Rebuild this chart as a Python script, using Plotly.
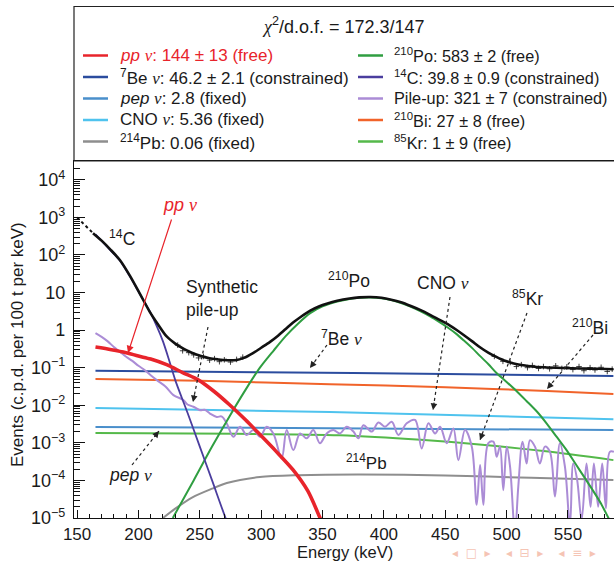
import numpy as np
import plotly.graph_objects as go

# ---------------- data (log10 of events, c.p.d. per 100 t per keV) ----------------
total_dot_E = [150, 156, 163]
total_dot_log = [3.0, 2.8, 2.58]

total_E = [163, 170, 177, 185, 193, 201, 209, 216, 223, 230, 237, 244, 251, 258, 265, 272,
           279, 286, 293, 300, 307, 313, 320, 326, 333, 340, 347, 354, 362, 372, 380, 389,
           398, 406, 414, 422, 430, 438, 445, 452, 459, 465, 472, 478, 485, 492, 498, 505,
           512, 519, 530, 546, 560, 575, 587]
total_log = [2.58, 2.38, 2.15, 1.86, 1.45, 0.98, 0.50, 0.15, -0.17, -0.36, -0.50, -0.61, -0.69,
             -0.75, -0.78, -0.80, -0.80, -0.74, -0.62, -0.47, -0.32, -0.17, 0.03, 0.20, 0.37,
             0.52, 0.63, 0.71, 0.78, 0.84, 0.87, 0.88, 0.86, 0.81, 0.74, 0.64, 0.53, 0.40,
             0.28, 0.16, 0.01, -0.13, -0.30, -0.45, -0.60, -0.72, -0.81, -0.88, -0.93, -0.96,
             -0.99, -1.01, -1.02, -1.03, -1.04]

data_E = [232, 236, 241, 245, 249, 253, 258, 262, 266, 270, 275, 280, 285,
          490, 497, 503, 508, 512, 517, 521, 526, 530, 535, 540, 545, 549, 554,
          559, 563, 568, 572, 577, 582, 586]
data_log = [-0.40, -0.55, -0.60, -0.66, -0.74, -0.70, -0.80, -0.76, -0.84, -0.79, -0.85, -0.78, -0.72,
            -0.70, -0.83, -0.86, -0.97, -0.92, -1.00, -0.94, -1.02, -0.97, -1.03, -0.95, -1.02,
            -0.98, -1.05, -0.97, -1.08, -1.00, -1.06, -0.99, -1.10, -1.04]

pp_E = [165, 178, 190, 200, 210, 223, 236, 249, 262, 274, 287, 299, 312, 326, 338, 348, 352]
pp_log = [-0.45, -0.52, -0.60, -0.69, -0.77, -0.92, -1.13, -1.33, -1.64, -1.98, -2.38, -2.78,
          -3.22, -3.72, -4.28, -5.0, -5.3]

be7_E = [165, 300, 450, 587]
be7_log = [-1.08, -1.12, -1.17, -1.22]

bi210_E = [165, 250, 356, 450, 533, 587]
bi210_log = [-1.30, -1.35, -1.44, -1.52, -1.62, -1.70]

cno_E = [165, 356, 587]
cno_log = [-2.07, -2.18, -2.37]

pep_E = [165, 356, 587]
pep_log = [-2.58, -2.61, -2.66]

kr85_E = [165, 280, 364, 430, 480, 530, 587]
kr85_log = [-2.74, -2.76, -2.80, -2.92, -3.05, -3.22, -3.46]

pb214_E = [220, 230, 244, 260, 272, 299, 330, 380, 450, 520, 587]
pb214_log = [-5.0, -4.75, -4.45, -4.22, -4.07, -3.91, -3.86, -3.84, -3.87, -3.93, -3.99]

c14_E = [165, 175, 185, 193, 201, 210, 215, 220, 225, 230, 240, 250, 260, 271, 276]
c14_log = [2.55, 2.2, 1.845, 1.43, 0.97, 0.45, 0.1, -0.3, -0.8, -1.33, -2.2, -3.1, -4.0, -5.0, -5.4]

po210_E = [228, 245, 260, 275, 288, 299, 310, 320, 330, 340, 350, 362, 372, 380, 389, 398,
           406, 414, 422, 430, 438, 445, 452, 459, 465, 472, 478, 485, 492, 500, 508, 516,
           525, 533, 541, 549, 556, 563, 570, 577, 583, 590]
po210_log = [-5.0, -4.0, -3.1, -2.25, -1.55, -1.0, -0.55, -0.16, 0.17, 0.45, 0.63, 0.76, 0.83,
             0.86, 0.87, 0.85, 0.80, 0.72, 0.62, 0.50, 0.36, 0.22, 0.07, -0.10, -0.27, -0.48,
             -0.68, -0.90, -1.15, -1.38, -1.62, -1.88, -2.18, -2.50, -2.85, -3.20, -3.55,
             -3.90, -4.25, -4.62, -5.0, -5.4]

pileup_E = [165, 170, 175, 180, 185, 190, 195, 200, 205, 210, 215, 222, 228.5, 236.6, 240,
            244.8, 250.2, 254, 258.3, 263.8, 268, 271.9, 277.4, 282.8, 288.2, 293.6, 299.1,
            304.5, 309.9, 316.7, 320.8, 326.2, 331.7, 337.1, 342.5, 347.9, 353.4, 358.8,
            364.2, 369.7, 375.2, 379.2, 383.3, 390.1, 395.5, 400.9, 406.4, 411.8, 418.6,
            425.4, 430.8, 436.3, 441.7, 445.8, 451.2, 456.6, 460.7, 466.1, 471.6, 475.6,
            478.4, 481.1, 485.1, 489.2, 491.9, 494.6, 497.3, 500.1, 502.8, 506.8, 509.5,
            513.0, 516.3, 519.0, 523.1, 527.1, 531.2, 535.3, 539.4, 543.4, 547.5, 551.6,
            554.3, 557.5, 561.1, 565.1, 568.4, 571.1, 574.6, 577.9, 580.9, 584.1, 587.4]
pileup_log = [-0.08, -0.18, -0.30, -0.45, -0.58, -0.71, -0.82, -0.95, -1.06, -1.20, -1.33,
              -1.50, -1.73, -1.86, -1.98, -2.04, -2.13, -2.12, -2.22, -2.31, -2.30, -2.48,
              -2.84, -2.57, -2.79, -2.66, -2.84, -2.57, -2.75, -3.41, -2.66, -3.19, -2.75,
              -2.88, -2.66, -3.01, -2.75, -2.66, -2.75, -2.57, -2.70, -2.88, -2.53, -2.70,
              -2.46, -2.57, -2.44, -2.79, -2.48, -2.39, -3.15, -2.48, -2.75, -2.57, -3.01,
              -2.62, -3.46, -2.66, -3.10, -4.65, -3.59, -4.65, -3.01, -2.97, -3.37, -3.10,
              -4.26, -3.10, -3.63, -5.40, -4.17, -2.97, -3.55, -2.93, -3.10, -3.55, -3.10,
              -3.24, -4.43, -3.01, -3.63, -5.20, -3.55, -3.99, -5.05, -3.55, -4.70, -3.55,
              -4.70, -3.55, -4.74, -3.24, -3.24]

y_tickvals = [1e-5, 1e-4, 1e-3, 1e-2, 1e-1, 1, 10, 1e2, 1e3, 1e4]
y_ticktext = ["10<sup>−5</sup>", "10<sup>−4</sup>", "10<sup>−3</sup>", "10<sup>−2</sup>",
              "10<sup>−1</sup>", "1", "10", "10<sup>2</sup>", "10<sup>3</sup>", "10<sup>4</sup>"]
x_tickvals = [150, 200, 250, 300, 350, 400, 450, 500, 550]

NU = "<span style='font-family:Liberation Serif'><i>ν</i></span>"
legend_left = [
    ("<i>pp</i> " + NU + ": 144 ± 13 (free)", "#e8242b", "#e8242b"),
    ("<sup>7</sup>Be " + NU + ": 46.2 ± 2.1 (constrained)", "#2b4c9e", "#1a1a1a"),
    ("<i>pep</i> " + NU + ": 2.8 (fixed)", "#4a8fcb", "#1a1a1a"),
    ("CNO " + NU + ": 5.36 (fixed)", "#4fc3ee", "#1a1a1a"),
    ("<sup>214</sup>Pb: 0.06 (fixed)", "#8e8e8e", "#1a1a1a"),
]
legend_right = [
    ("<sup>210</sup>Po: 583 ± 2 (free)", "#2f9e41", "#1a1a1a"),
    ("<sup>14</sup>C: 39.8 ± 0.9 (constrained)", "#4a3d9e", "#1a1a1a"),
    ("Pile-up: 321 ± 7 (constrained)", "#ab8cd6", "#1a1a1a"),
    ("<sup>210</sup>Bi: 27 ± 8 (free)", "#f1632a", "#1a1a1a"),
    ("<sup>85</sup>Kr: 1 ± 9 (free)", "#55b94a", "#1a1a1a"),
]

# ---------------- layout helpers ----------------
W, H = 614, 561
ML, MR, MT, MB = 74, 0, 161, 43
PW, PH = W - ML - MR, H - MT - MB
FONT = "Liberation Sans, Arial, sans-serif"


def px(xp):
    return (xp - ML) / PW


def py(yp):
    return (H - MB - yp) / PH


def lin(lst):
    return np.power(10.0, np.array(lst, dtype=float))


fig = go.Figure()


def add_line(E, lg, color, width, dash="solid", shape="spline", smoothing=0.8):
    fig.add_trace(go.Scatter(x=E, y=lin(lg), mode="lines",
                             line=dict(color=color, width=width, dash=dash, shape=shape,
                                       smoothing=smoothing if shape == "spline" else None),
                             showlegend=False, hoverinfo="skip"))


add_line(pep_E, pep_log, "#4a8fcb", 2)
add_line(cno_E, cno_log, "#4fc3ee", 2)
add_line(kr85_E, kr85_log, "#55b94a", 2)
add_line(pb214_E, pb214_log, "#8e8e8e", 2)
add_line(bi210_E, bi210_log, "#f1632a", 2)
add_line(be7_E, be7_log, "#2b4c9e", 2)
add_line(pileup_E, pileup_log, "#ab8cd6", 2, smoothing=1.0)
add_line(po210_E, po210_log, "#2f9e41", 2)
add_line(c14_E, c14_log, "#4a3d9e", 1.8)
add_line(pp_E, pp_log, "#e8242b", 3.6)
add_line(total_dot_E, total_dot_log, "#111111", 2, dash="dot", shape="linear")
add_line(total_E, total_log, "#111111", 2.6)
fig.add_trace(go.Scatter(x=data_E, y=lin(data_log), mode="markers",
                         marker=dict(symbol="cross-thin", size=4, line=dict(color="#111111", width=0.8)),
                         showlegend=False, hoverinfo="skip"))

shapes = []
annotations = []

# legend box
shapes.append(dict(type="rect", xref="paper", yref="paper", x0=px(74), x1=px(640),
                   y0=py(161), y1=py(6.5), line=dict(color="#222222", width=1.2)))
annotations.append(dict(xref="paper", yref="paper", x=px(343), y=py(25), showarrow=False,
                        text="<span style='font-family:Liberation Serif'><i>χ</i></span><sup>2</sup>/d.o.f. = 172.3/147",
                        font=dict(family=FONT, size=18, color="#1a1a1a"),
                        xanchor="center", yanchor="middle"))
row_y = [55.5, 77, 98.5, 120, 141.5]
for col, (lx0, lx1, tx, fs) in zip([legend_left, legend_right],
                                   [(83, 108, 118, 17), (358, 383, 392, 16.3)]):
    for (txt, lcol, tcol), yy in zip(col, row_y):
        shapes.append(dict(type="line", xref="paper", yref="paper", x0=px(lx0), x1=px(lx1),
                           y0=py(yy), y1=py(yy), line=dict(color=lcol, width=2.5)))
        annotations.append(dict(xref="paper", yref="paper", x=px(tx), y=py(yy), text=txt,
                                showarrow=False, xanchor="left", yanchor="middle",
                                font=dict(family=FONT, size=fs, color=tcol)))

# plot labels
labels = [
    ("<i>pp</i> " + NU, 180, 205, "#e8242b", 18, "center"),
    ("<sup>14</sup>C", 122, 238, "#1a1a1a", 17.5, "center"),
    ("Synthetic<br>pile-up", 184, 298, "#1a1a1a", 17.5, "left"),
    ("<sup>210</sup>Po", 349, 280, "#1a1a1a", 17.5, "center"),
    ("<sup>7</sup>Be " + NU, 341, 338, "#1a1a1a", 17.5, "center"),
    ("CNO " + NU, 443, 283, "#1a1a1a", 17.5, "center"),
    ("<sup>85</sup>Kr", 527, 298, "#1a1a1a", 17.5, "center"),
    ("<sup>210</sup>Bi", 590, 327, "#1a1a1a", 17.5, "center"),
    ("<i>pep</i> " + NU, 130, 475, "#1a1a1a", 17.5, "center"),
    ("<sup>214</sup>Pb", 366, 462, "#1a1a1a", 17, "center"),
]
for txt, xx, yy, col, fs, anc in labels:
    annotations.append(dict(xref="paper", yref="paper", x=px(xx), y=py(yy), text=txt,
                            showarrow=False, xanchor=anc, yanchor="middle", align=anc,
                            font=dict(family=FONT, size=fs, color=col)))

# pp arrow (solid red)
annotations.append(dict(xref="paper", yref="paper", x=px(128), y=py(353), ax=172 - 128, ay=218 - 353,
                        text="", showarrow=True, arrowhead=2, arrowsize=1.2, arrowwidth=1.2,
                        arrowcolor="#e8242b"))

# dotted arrows
dotted = [((208, 327), (193, 402)), ((327, 345), (310, 368)), ((450, 297), (433, 410)),
          ((527, 313), (480, 440)), ((593, 335), (547, 389)), ((132, 465), (159, 431))]
for (tx, ty), (hx, hy) in dotted:
    shapes.append(dict(type="line", xref="paper", yref="paper", x0=px(tx), y0=py(ty),
                       x1=px(hx), y1=py(hy), line=dict(color="#222222", width=1.2, dash="dot")))
    d = np.hypot(tx - hx, ty - hy)
    annotations.append(dict(xref="paper", yref="paper", x=px(hx), y=py(hy),
                            ax=(tx - hx) / d * 9, ay=(ty - hy) / d * 9, text="", showarrow=True,
                            arrowhead=2, arrowsize=1.1, arrowwidth=1.2, arrowcolor="#222222"))

# axis titles
annotations.append(dict(xref="paper", yref="paper", x=px(345), y=py(552), text="Energy (keV)",
                        showarrow=False, xanchor="center", yanchor="middle",
                        font=dict(family=FONT, size=16.5, color="#1a1a1a")))
annotations.append(dict(xref="paper", yref="paper", x=px(17), y=py(345),
                        text="Events (c.p.d. per 100 t per keV)", textangle=-90,
                        showarrow=False, xanchor="center", yanchor="middle",
                        font=dict(family=FONT, size=17, color="#1a1a1a")))
# faint slide navigation symbols
annotations.append(dict(xref="paper", yref="paper", x=px(524), y=py(553),
                        text="◂  □  ▸    ◂  ⊟  ▸    ◂  ≡  ▸", showarrow=False, xanchor="center",
                        yanchor="middle", font=dict(family="DejaVu Sans", size=12, color="#f5c4b4")))

y_minor = [k * 10.0 ** n for n in range(-5, 5) for k in range(2, 10)]

fig.update_layout(
    width=W, height=H, margin=dict(l=ML, r=MR, t=MT, b=MB),
    paper_bgcolor="white", plot_bgcolor="white",
    shapes=shapes, annotations=annotations,
    xaxis=dict(range=[147.5, 587.5], tickvals=x_tickvals, ticks="inside", ticklen=8,
               tickwidth=1, tickcolor="#111111", showline=True, linecolor="#111111",
               linewidth=1.2, mirror=True, showgrid=False, zeroline=False,
               tickfont=dict(family=FONT, size=17, color="#1a1a1a"),
               minor=dict(dtick=10, ticks="inside", ticklen=4, tickcolor="#111111", showgrid=False)),
    yaxis=dict(type="log", range=[-5, 4.5], tickvals=y_tickvals, ticktext=y_ticktext,
               ticks="inside", ticklen=11, tickwidth=1, tickcolor="#111111", showline=True,
               linecolor="#111111", linewidth=1.2, showgrid=False, zeroline=False,
               tickfont=dict(family=FONT, size=18, color="#1a1a1a"), ticklabelstandoff=4,
               minor=dict(tickvals=y_minor, ticks="inside", ticklen=6, tickcolor="#111111",
                          showgrid=False)),
)

fig.write_html("out.html")
